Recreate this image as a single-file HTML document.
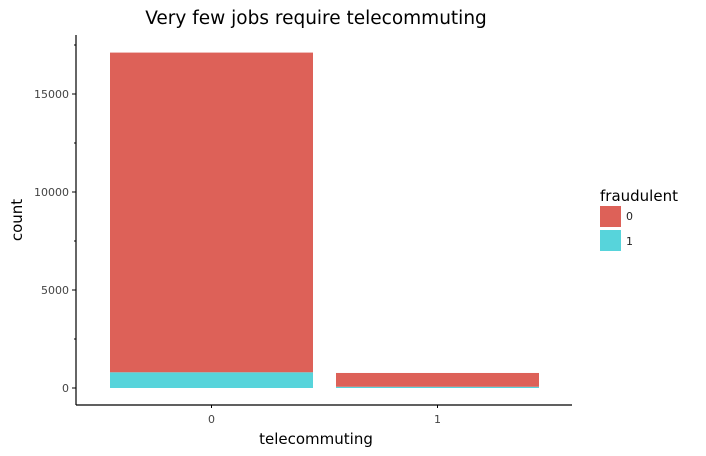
<!DOCTYPE html>
<html><head><meta charset="utf-8"><style>
body{margin:0;background:#fff;}
svg{display:block;font-family:"DejaVu Sans","Liberation Sans",sans-serif;}
</style></head><body>
<svg id="c" width="706" height="456">
<text x="316" y="24" font-size="18.5" text-anchor="middle" fill="#000">Very few jobs require telecommuting</text>
<g id="bars"></g>
<g id="axes"></g>
<text x="316" y="444" font-size="15" text-anchor="middle">telecommuting</text>
<text transform="translate(22,220) rotate(-90)" font-size="15" text-anchor="middle">count</text>
<g>
<text x="600" y="201" font-size="15">fraudulent</text>
<rect x="600" y="206" width="21" height="21" fill="#DD6158"/>
<text x="626" y="220" font-size="11" fill="#222">0</text>
<rect x="600" y="230" width="21" height="21" fill="#57D4DB"/>
<text x="626" y="245" font-size="11" fill="#222">1</text>
</g>
</svg>
<script>
const categories=["0","1"];
const notFraud=[16311,703];
const fraud=[802,64];
const yTicks=[0,5000,10000,15000];
const yMinor=[2500,7500,12500,17500];
const NS="http://www.w3.org/2000/svg";
function y(v){return 388-v*98/5000;}
function xc(i){return 211.5+i*226;}
const bw=203;
const bars=document.getElementById('bars'),axes=document.getElementById('axes');
function mk(tag,attrs,parent){const e=document.createElementNS(NS,tag);for(const k in attrs)e.setAttribute(k,attrs[k]);parent.appendChild(e);return e;}
categories.forEach((c,i)=>{
  let r=mk('rect',{x:xc(i)-bw/2,y:y(fraud[i]),width:bw,height:y(0)-y(fraud[i]),fill:'#57D4DB'},bars);
  
  
  let t=fraud[i]+notFraud[i];
  let r2=mk('rect',{x:xc(i)-bw/2,y:y(t),width:bw,height:y(fraud[i])-y(t),fill:'#DD6158'},bars);
  
  
  let tk=mk('line',{x1:xc(i),x2:xc(i),y1:405,y2:408,stroke:'#000'},axes);
  
  
  let tl=mk('text',{x:xc(i),y:423,'font-size':11,'text-anchor':'middle',fill:'#444'},axes);
  tl.textContent=c;
  
  
});
let xa=mk('line',{x1:76,x2:572,y1:405,y2:405,stroke:'#000','stroke-width':1.2},axes);


let ya=mk('line',{x1:76,x2:76,y1:35,y2:405,stroke:'#000','stroke-width':1.2},axes);


yTicks.forEach(v=>{
  let t=mk('line',{x1:72,x2:76,y1:y(v),y2:y(v),stroke:'#000'},axes);
  
  
  let l=mk('text',{x:69,y:y(v)+4,'font-size':11,'text-anchor':'end',fill:'#444'},axes);
  l.textContent=v;
  
  
});
yMinor.forEach(v=>{
  let t=mk('line',{x1:74,x2:76,y1:y(v),y2:y(v),stroke:'#000'},axes);
  
  
});
</script>
</body></html>
